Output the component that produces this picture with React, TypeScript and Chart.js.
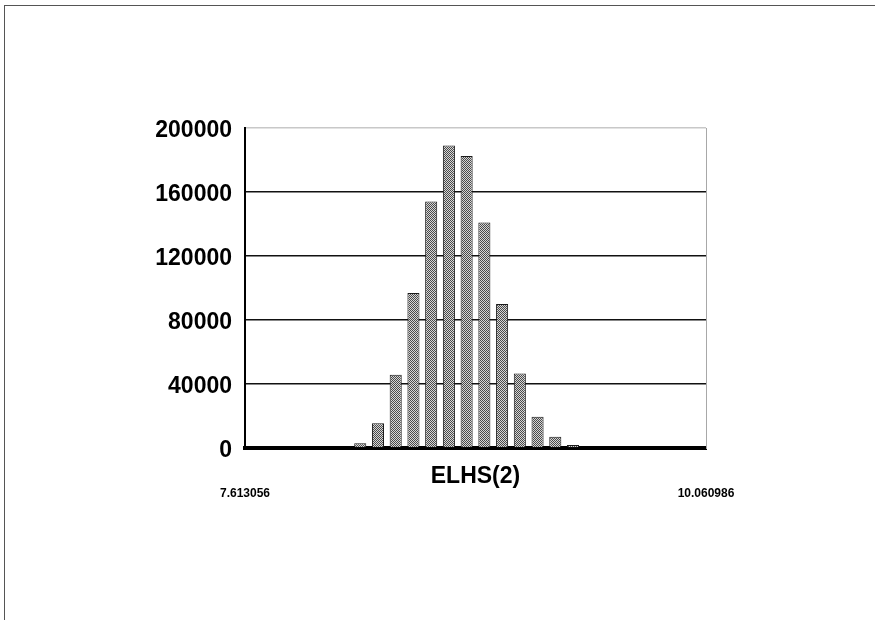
import React, { useEffect, useRef } from "react";
import { Chart, registerables } from "chart.js";

Chart.register(...registerables);

const binLabels: string[] = [
  "7.6601", "7.7543", "7.8484", "7.9426", "8.0367", "8.1309", "8.2250",
  "8.3192", "8.4133", "8.5075", "8.6016", "8.6958", "8.7899", "8.8841",
  "8.9782", "9.0724", "9.1665", "9.2607", "9.3548", "9.4490", "9.5431",
  "9.6373", "9.7314", "9.8256", "9.9197", "10.0139",
];

const counts: number[] = [
  0, 0, 0, 0, 0, 0, 3000, 15500, 45800, 96800, 154000, 189000, 182500,
  141000, 90000, 46500, 19500, 7000, 1900, 0, 0, 0, 0, 0, 0, 0,
];

const xEdgeValues: number[] = [7.613056, 10.060986];
const xEdgeLabels: string[] = ["7.613056", "10.060986"];
const yTicks: number[] = [0, 40000, 80000, 120000, 160000, 200000];
const axisTitle = "ELHS(2)";

const FONT = "'Liberation Sans', Arial, Helvetica, sans-serif";

function makePattern(): CanvasPattern | string {
  const c = document.createElement("canvas");
  c.width = 4;
  c.height = 4;
  const g = c.getContext("2d");
  if (!g) return "#aaaaaa";
  g.fillStyle = "#d6d6d6";
  g.fillRect(0, 0, 4, 4);
  g.fillStyle = "#4a4a4a";
  for (let i = 0; i < 4; i++) {
    g.fillRect(i, i, 1, 1);
    g.fillRect((i + 2) % 4, i, 1, 1);
  }
  const p = g.createPattern(c, "repeat");
  return p || "#aaaaaa";
}

export default function App() {
  const ref = useRef<HTMLCanvasElement | null>(null);

  useEffect(() => {
    if (!ref.current) return;
    const pattern = makePattern();
    const chart = new Chart(ref.current, {
      type: "bar",
      data: {
        labels: binLabels,
        datasets: [
          {
            data: counts,
            backgroundColor: pattern as any,
            borderColor: "#1a1a1a",
            borderWidth: 1,
            categoryPercentage: 1,
            barPercentage: 0.68,
            xAxisID: "x",
            yAxisID: "y",
          },
        ],
      },
      options: {
        animation: false,
        responsive: false,
        maintainAspectRatio: false,
        layout: { padding: { left: 0, right: 169, top: 128, bottom: 0 } },
        plugins: {
          legend: { display: false },
          tooltip: { enabled: false },
          title: { display: false },
        },
        scales: {
          x: {
            type: "category",
            position: "bottom",
            offset: true,
            ticks: { display: false },
            grid: { display: false, drawTicks: false },
            border: { display: true, color: "#000", width: 4 },
            title: {
              display: true,
              text: axisTitle,
              color: "#000",
              font: { family: FONT, size: 23, weight: "bold", lineHeight: 1 },
              padding: { top: 0, bottom: -2 },
            },
            afterFit: (s: any) => {
              s.height = 38;
            },
          },
          x2: {
            type: "linear",
            position: "bottom",
            offset: false,
            min: xEdgeValues[0],
            max: xEdgeValues[1],
            grid: { display: false, drawTicks: false, offset: false },
            border: { display: false },
            afterBuildTicks: (s: any) => {
              s.ticks = xEdgeValues.map((v) => ({ value: v }));
            },
            ticks: {
              autoSkip: false,
              maxRotation: 0,
              padding: 0,
              color: "#000",
              font: { family: FONT, size: 12, weight: "bold" },
              callback: (_v: any, i: number) => xEdgeLabels[i],
            },
            afterFit: (s: any) => {
              s.height = 134;
            },
          },
          y: {
            type: "linear",
            position: "left",
            min: 0,
            max: 200000,
            afterBuildTicks: (s: any) => {
              s.ticks = yTicks.map((v) => ({ value: v }));
            },
            ticks: {
              padding: 13,
              labelOffset: 3,
              color: "#000",
              font: { family: FONT, size: 23, weight: "bold" },
              callback: (v: any) => String(v),
            },
            grid: {
              drawTicks: false,
              color: (ctx: any) =>
                ctx.tick && ctx.tick.value === 200000
                  ? "#c8c8c8"
                  : ctx.tick && ctx.tick.value === 0
                  ? "rgba(0,0,0,0)"
                  : "#111",
              lineWidth: 1.5,
            },
            border: { display: true, color: "#000", width: 2 },
            afterFit: (s: any) => {
              s.width = 245;
            },
          },
          y2: {
            type: "linear",
            position: "right",
            min: 0,
            max: 1,
            ticks: { display: false },
            grid: { display: false, drawTicks: false },
            border: { display: true, color: "#a8a8a8", width: 1 },
            afterFit: (s: any) => {
              s.width = 0;
            },
          },
        },
      },
    });
    return () => chart.destroy();
  }, []);

  return (
    <div
      style={{
        position: "fixed",
        left: 0,
        top: 0,
        width: 875,
        height: 620,
        background: "#fff",
        overflow: "hidden",
      }}
    >
      <div
        style={{
          position: "absolute",
          left: 4,
          top: 5,
          right: 0,
          bottom: 0,
          borderTop: "1px solid #555",
          borderLeft: "1px solid #555",
        }}
      />
      <canvas
        ref={ref}
        width={875}
        height={620}
        style={{ position: "absolute", left: 0, top: 0, width: 875, height: 620 }}
      />
    </div>
  );
}
